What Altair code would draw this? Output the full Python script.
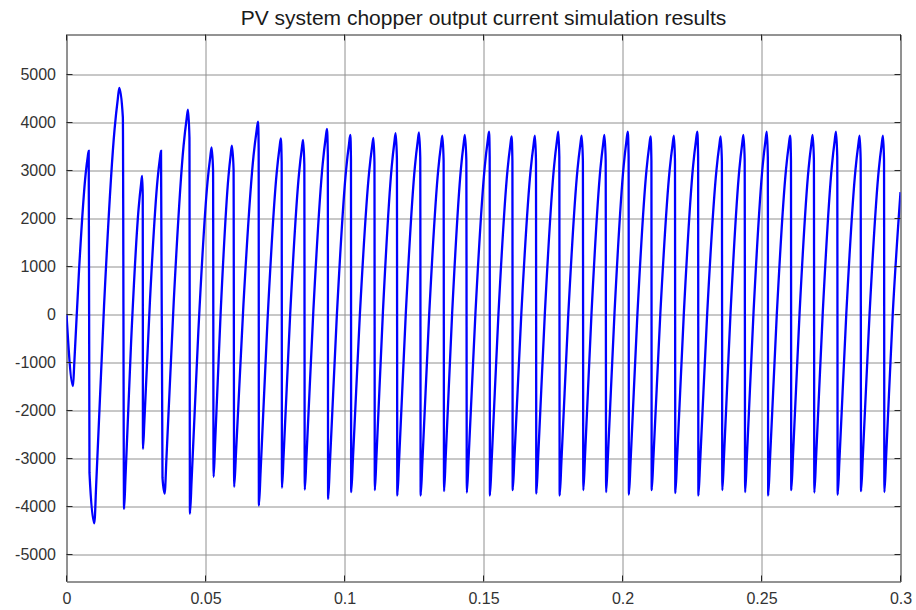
import altair as alt
import pandas as pd

# Extrema (time in s, current in A)
trough_t = [0.00234, 0.0100, 0.0207, 0.0275, 0.0353, 0.0444, 0.0529, 0.0603, 0.0692,
            0.0775, 0.0857, 0.0941, 0.1024, 0.1109, 0.1190, 0.1274, 0.1358, 0.1440,
            0.1523, 0.1605, 0.1690, 0.1774, 0.1859, 0.1941, 0.2023, 0.2105, 0.2190,
            0.2273, 0.2359, 0.2441, 0.2524, 0.2607, 0.2690, 0.2774, 0.2858, 0.2942]
trough_v = [-1490, -4350, -4050, -2800, -3730, -4150, -3380, -3590, -3980,
            -3610, -3650, -3840, -3700, -3660, -3770, -3770, -3680, -3710,
            -3770, -3660, -3730, -3770, -3660, -3700, -3750, -3660, -3720,
            -3770, -3660, -3700, -3770, -3660, -3710, -3750, -3680, -3700]
peak_t = [0.00799, 0.0190, 0.0272, 0.0340, 0.0437, 0.0522, 0.0595, 0.0689, 0.0771,
          0.0851, 0.0937, 0.1021, 0.1104, 0.1184, 0.1268, 0.1352, 0.1433, 0.1520,
          0.1601, 0.1685, 0.1769, 0.1853, 0.1935, 0.2019, 0.2101, 0.2185, 0.2269,
          0.2353, 0.2435, 0.2519, 0.2603, 0.2684, 0.2768, 0.2853, 0.2937]
peak_v = [3410, 4720, 2885, 3410, 4270, 3480, 3520, 4020, 3670,
          3635, 3865, 3740, 3680, 3780, 3795, 3725, 3740, 3810,
          3710, 3725, 3810, 3725, 3740, 3810, 3710, 3725, 3810,
          3710, 3740, 3810, 3725, 3740, 3810, 3725, 3725]

# Shape of each rising edge (fraction of rise time, fraction of swing)
rise_time_frac = [0.08, 0.39, 0.81, 0.94]
rise_level_frac = [0.095, 0.5, 0.905, 0.975]
# Shoulder of each falling edge (fraction of fall time, fraction of swing above the trough)
fall_time_frac = 0.75
fall_level_frac = 0.93
# Peaks that drop at once like a spike (no rounded shoulder)
spike_peaks = [0, 3]

# Other points
extra_t = [0.0, 0.00827, 0.03453, 0.2948, 0.2972, 0.3000]
extra_v = [0, -3300, -3400, -3000, 0, 2550]

pts = list(zip(extra_t, extra_v))
pts += list(zip(trough_t, trough_v))
pts += list(zip(peak_t, peak_v))
for k, (tt, vt, tp, vp) in enumerate(zip(trough_t, trough_v, peak_t, peak_v)):
    for f, l in zip(rise_time_frac, rise_level_frac):
        pts.append((tt + f * (tp - tt), vt + l * (vp - vt)))
    if k not in spike_peaks:
        tn, vn = trough_t[k + 1], trough_v[k + 1]
        pts.append((tp + fall_time_frac * (tn - tp), vn + fall_level_frac * (vp - vn)))
pts.sort()
df = pd.DataFrame(pts, columns=["t", "i"])

x_ticks = [0, 0.05, 0.1, 0.15, 0.2, 0.25, 0.3]
y_ticks = [-5000, -4000, -3000, -2000, -1000, 0, 1000, 2000, 3000, 4000, 5000]

FONT = "Liberation Sans"
W, H = 834, 547
TICK = 6
FRAME = "#262626"

x_scale = alt.Scale(domain=[0, 0.3], nice=False, zero=False)
y_scale = alt.Scale(domain=[-5562.5, 5833.3], nice=False, zero=False)

line = alt.Chart(df).mark_line(
    color="#0000ff", strokeWidth=2.3, interpolate="monotone", clip=True
).encode(
    x=alt.X("t:Q", scale=x_scale,
            axis=alt.Axis(values=x_ticks, labelExpr="'' + datum.value", title=None,
                          labelPadding=9, labelFlush=False)),
    y=alt.Y("i:Q", scale=y_scale,
            axis=alt.Axis(values=y_ticks, labelExpr="'' + datum.value", title=None,
                          labelPadding=11)),
)

# MATLAB-style inward tick marks on all four sides
ydf = pd.DataFrame({"i": y_ticks})
xdf = pd.DataFrame({"t": x_ticks})
tick_left = alt.Chart(ydf).mark_rule(color=FRAME, strokeWidth=1).encode(
    y=alt.Y("i:Q", scale=y_scale), x=alt.value(0), x2=alt.value(TICK))
tick_right = alt.Chart(ydf).mark_rule(color=FRAME, strokeWidth=1).encode(
    y=alt.Y("i:Q", scale=y_scale), x=alt.value(W - TICK), x2=alt.value(W))
tick_bottom = alt.Chart(xdf).mark_rule(color=FRAME, strokeWidth=1).encode(
    x=alt.X("t:Q", scale=x_scale), y=alt.value(H - TICK), y2=alt.value(H))
tick_top = alt.Chart(xdf).mark_rule(color=FRAME, strokeWidth=1).encode(
    x=alt.X("t:Q", scale=x_scale), y=alt.value(0), y2=alt.value(TICK))

chart = alt.layer(line, tick_left, tick_right, tick_bottom, tick_top).properties(
    width=W, height=H,
    background="white",
    title=alt.TitleParams("PV system chopper output current simulation results",
                          font=FONT, fontSize=21, fontWeight="normal", color="#1a1a1a",
                          anchor="middle", offset=5),
    autosize=alt.AutoSizeParams(type="none"),
    padding={"left": 66.5, "top": 34.5, "right": 15.5, "bottom": 28.5},
).configure_view(
    stroke=FRAME, strokeWidth=1, fill="white"
).configure_axis(
    grid=True, gridColor="#909090", gridWidth=1, gridOpacity=1,
    domain=False, ticks=False,
    labelFont=FONT, labelFontSize=16, labelColor="#333333",
)

chart.save("out.html", embed_options={"renderer": "svg", "actions": False})
